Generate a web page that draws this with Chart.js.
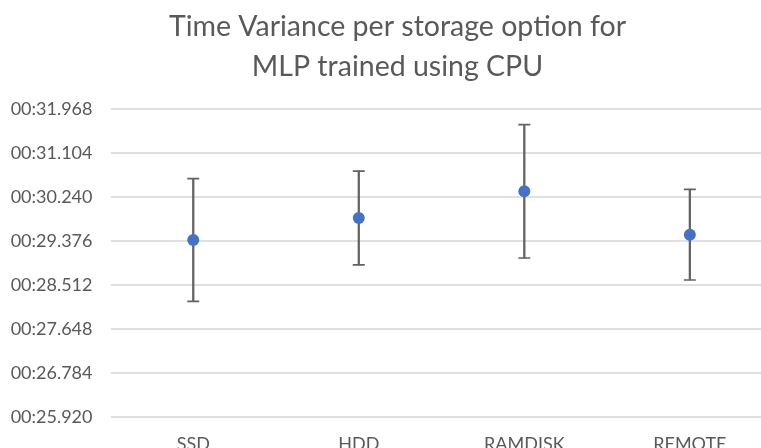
<!DOCTYPE html>
<html>
<head>
<meta charset="utf-8">
<script src="https://cdn.jsdelivr.net/npm/chart.js@4.4.1/dist/chart.umd.min.js"></script>
<style>
  html, body { margin: 0; padding: 0; background: #ffffff; overflow: hidden; }
  #wrap { width: 795px; height: 470px; }
</style>
</head>
<body>
<div id="wrap"><canvas id="c" width="795" height="470"></canvas></div>
<script>
// ---- data (seconds) ----
const categories = ["SSD", "HDD", "RAMDISK", "REMOTE"];
const meanSeconds = [29.402, 29.834, 30.358, 29.506];
const errorSeconds = [1.205, 0.920, 1.310, 0.890];
const yTickSeconds = [25.920, 26.784, 27.648, 28.512, 29.376, 30.240, 31.104, 31.968];
const titleLines = ["Time Variance per storage option for", "MLP trained using CPU"];

const lows = meanSeconds.map((m, i) => m - errorSeconds[i]);
const highs = meanSeconds.map((m, i) => m + errorSeconds[i]);
const ranges = lows.map((l, i) => [l, highs[i]]);

const textColor = "#595959";
const barColor = "#626262";
const fontFamily = "Lato, 'Open Sans', sans-serif";

new Chart(document.getElementById("c"), {
  type: "bar",
  data: {
    labels: categories,
    datasets: [
      {
        type: "line",
        data: meanSeconds,
        showLine: false,
        pointRadius: 6,
        pointBackgroundColor: "#4472C4",
        pointBorderColor: "#4472C4",
        pointBorderWidth: 0,
        order: 0
      },
      {
        type: "line",
        data: lows,
        showLine: false,
        pointStyle: "line",
        pointRadius: 6,
        pointBorderWidth: 1.6,
        pointBorderColor: barColor,
        order: 1
      },
      {
        type: "line",
        data: highs,
        showLine: false,
        pointStyle: "line",
        pointRadius: 6,
        pointBorderWidth: 1.6,
        pointBorderColor: barColor,
        order: 1
      },
      {
        type: "bar",
        data: ranges,
        barThickness: 1.6,
        backgroundColor: barColor,
        borderWidth: 0,
        order: 2
      }
    ]
  },
  options: {
    responsive: false,
    animation: false,
    layout: { padding: { top: 6, left: 0, right: 0, bottom: 0 } },
    plugins: {
      legend: { display: false },
      tooltip: { enabled: false },
      title: {
        display: true,
        text: titleLines,
        color: textColor,
        font: { family: fontFamily, size: 28.5, weight: "normal", lineHeight: 1.4035 },
        padding: { top: 0.5, bottom: 22.8 }
      }
    },
    scales: {
      x: {
        offset: true,
        grid: { display: false },
        border: { display: false },
        ticks: {
          color: textColor,
          font: { family: fontFamily, size: 18 },
          padding: 8,
          maxRotation: 0
        },
        afterFit: (s) => { s.height = 52.7; }
      },
      y: {
        min: yTickSeconds[0],
        max: yTickSeconds[yTickSeconds.length - 1],
        afterBuildTicks: (s) => { s.ticks = yTickSeconds.map(v => ({ value: v })); },
        grid: { color: "#e0e0e0", lineWidth: 2, drawTicks: false },
        border: { display: false },
        ticks: {
          color: textColor,
          font: { family: fontFamily, size: 18 },
          padding: 18,
          callback: (v) => "00:" + Number(v).toFixed(3)
        },
        afterFit: (s) => { s.width = 110.5; }
      },
      yRightSpace: {
        position: "right",
        display: true,
        min: yTickSeconds[0],
        max: yTickSeconds[yTickSeconds.length - 1],
        grid: { display: false, drawTicks: false },
        border: { display: false },
        ticks: { display: false },
        afterFit: (s) => { s.width = 22.4; }
      }
    }
  }
});
</script>
</body>
</html>
